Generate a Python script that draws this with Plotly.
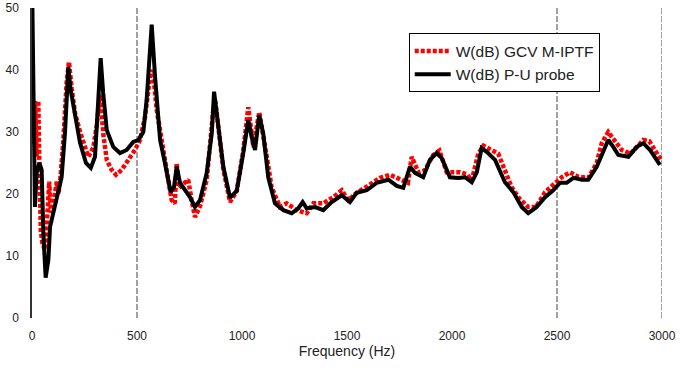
import plotly.graph_objects as go

# Black: W(dB) P-U probe
pu_freq = [2, 14, 22, 35, 46, 54, 65, 78, 86, 101, 125, 141, 157, 173, 184, 205, 229, 257, 280, 300,
           316, 327, 339, 356, 387, 419, 451, 482, 506, 530, 546, 570, 586, 610, 633, 660, 676, 689,
           705, 729, 752, 776, 800, 832, 856, 867, 887, 911, 943, 975, 1006, 1030, 1046, 1062, 1082,
           1101, 1125, 1157, 1197, 1237, 1268, 1289, 1308, 1348, 1387, 1427, 1475, 1514, 1546, 1594,
           1641, 1697, 1737, 1768, 1800, 1824, 1863, 1895, 1927, 1951, 1990, 2030, 2062, 2094, 2118,
           2141, 2165, 2205, 2252, 2292, 2332, 2363, 2403, 2443, 2482, 2514, 2546, 2578, 2618, 2649,
           2689, 2721, 2744, 2768, 2792, 2840, 2880, 2911, 2943, 2990]
pu_db = [50, 17.9, 23.4, 25.0, 23.9, 13.7, 6.5, 9.4, 14.7, 16.9, 20.2, 22.7, 29.8, 40.5, 36.8, 32.4,
         28.2, 25.0, 24.2, 26.0, 35.2, 41.9, 36.3, 30.3, 27.6, 26.6, 27.1, 28.4, 28.7, 30.0, 35.2,
         47.3, 38.9, 28.7, 25.0, 20.3, 21.1, 24.4, 21.8, 20.6, 19.5, 17.9, 19.0, 23.4, 29.8, 36.5,
         30.8, 24.4, 19.4, 20.5, 26.6, 31.9, 29.2, 27.1, 32.7, 29.8, 22.7, 18.5, 17.4, 16.9, 17.7,
         18.7, 17.7, 17.9, 17.4, 18.7, 19.8, 18.7, 20.2, 20.6, 21.8, 22.3, 21.3, 21.0, 24.4, 23.4,
         22.7, 25.5, 26.6, 25.8, 22.7, 22.6, 22.7, 21.9, 23.5, 27.4, 26.8, 25.5, 21.9, 20.3, 17.9,
         16.9, 17.9, 19.5, 20.6, 21.8, 21.8, 22.6, 22.3, 22.3, 24.4, 27.1, 28.7, 27.6, 26.3, 26.0,
         27.6, 28.2, 27.1, 24.7]

# Red dotted: W(dB) GCV M-IPTF
gcv_freq = [3, 15, 22, 30, 35, 42, 50, 62, 72, 82, 90, 100, 118, 126, 135, 148, 165, 176, 189, 205,
            229, 252, 268, 292, 308, 324, 340, 356, 379, 400, 427, 459, 490, 514, 538, 562, 575, 594,
            618, 641, 665, 680, 689, 700, 720, 744, 760, 776, 800, 832, 863, 873, 890, 911, 943, 975,
            1006, 1030, 1054, 1082, 1118, 1141, 1181, 1213, 1260, 1308, 1340, 1387, 1435, 1475, 1506,
            1546, 1594, 1625, 1657, 1705, 1752, 1790, 1808, 1840, 1870, 1911, 1940, 1975, 2038, 2070,
            2094, 2125, 2150, 2189, 2220, 2284, 2320, 2363, 2400, 2443, 2482, 2522, 2562, 2600, 2649,
            2689, 2713, 2744, 2770, 2808, 2850, 2911, 2940, 2975, 2995]
gcv_db = [28, 35, 26, 35, 25, 14, 12, 11, 16, 22, 17, 18, 22, 20, 22.5, 28, 38, 41.3, 37, 33,
          30, 27.5, 26, 27.5, 31, 36, 29.5, 25.5, 23.9, 23.1, 23.9, 25.5, 27.1, 28.7, 32.4, 38.9, 40,
          33.5, 28.2, 23.4, 19, 18.5, 25, 21, 21.5, 22.3, 19, 16.3, 18, 22.3, 33.5, 35, 30, 24, 18.7,
          20.5, 27, 34, 27.6, 33.2, 26, 21.1, 17.9, 18.5, 17.4, 16.9, 18.5, 18.5, 19.5, 20.6, 19,
          20.2, 21.2, 21.9, 22.6, 23.1, 22.3, 21.8, 26, 23.5, 23.8, 26.3, 27, 23.5, 23.5, 23.2,
          22.2, 26.5, 27.8, 27.1, 26.5, 21.1, 19.3, 17.9, 17.9, 20.3, 21.5, 22.7, 23.5, 22.8, 22.6,
          25, 28.2, 30, 28.8, 27.1, 26.5, 28.7, 28.5, 26.6, 25.5]

x_ticks = [0, 500, 1000, 1500, 2000, 2500, 3000]
y_ticks = [0, 10, 20, 30, 40, 50]
grid_freqs = [500, 2500, 3000]

FONT = "Liberation Sans, Arial, sans-serif"

fig = go.Figure()
fig.add_trace(go.Scatter(x=gcv_freq, y=gcv_db, mode="lines", name="W(dB) GCV M-IPTF",
                         line=dict(color="#ff0000", width=4.5, dash="4px,2px")))
fig.add_trace(go.Scatter(x=pu_freq, y=pu_db, mode="lines", name="W(dB) P-U probe",
                         line=dict(color="#000000", width=4)))

for gf in grid_freqs:
    fig.add_vline(x=gf, line=dict(color="#444444", width=1, dash="6px,2px"), layer="below")

fig.update_layout(
    width=680, height=376,
    margin=dict(l=32, r=18, t=8, b=58, autoexpand=False),
    paper_bgcolor="white", plot_bgcolor="white",
    font=dict(family=FONT, size=12, color="#222222"),
    showlegend=True,
    legend=dict(x=0.598, y=0.918, xanchor="left", yanchor="top",
                bgcolor="white", bordercolor="#000000", borderwidth=1,
                font=dict(family=FONT, size=15.5, color="#222222"),
                itemwidth=36, traceorder="normal"),
    xaxis=dict(range=[0, 3000], tickvals=x_ticks, ticktext=[str(v) for v in x_ticks],
               showgrid=False, zeroline=False, showline=False, ticks="", automargin=False,
               ticklabelstandoff=9,
               title=dict(text="Frequency (Hz)", font=dict(family=FONT, size=14, color="#222222"),
                          standoff=2)),
    yaxis=dict(range=[0, 50], tickvals=y_ticks, ticktext=[str(v) for v in y_ticks],
               showgrid=False, zeroline=False, showline=True, linecolor="#333333", linewidth=1.5,
               ticks="", ticklabelstandoff=9, automargin=False),
)

fig.write_html("out.html")
